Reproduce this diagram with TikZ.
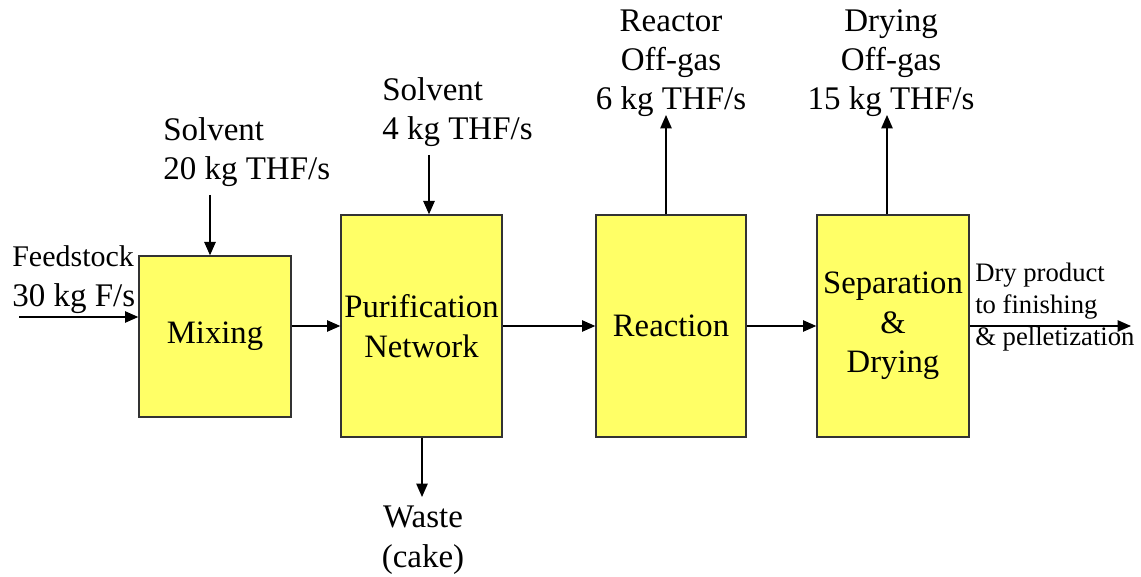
\documentclass[tikz,border=0pt]{standalone}
\usepackage{fontspec}
\setmainfont{Liberation Serif}
\usetikzlibrary{positioning,arrows.meta}
\definecolor{unitfill}{RGB}{255,255,102}

\begin{document}
\begin{tikzpicture}[
        x=0.75pt, y=-0.75pt,
        unit/.style = {draw=black!80, line width=1pt, fill=unitfill, align=center,
                       inner sep=0pt, font=\fontsize{24.5}{29.5}\selectfont},
        lbl/.style  = {inner sep=0pt, font=\fontsize{24.75}{29.5}\selectfont},
        small/.style = {inner sep=0pt, align=left, font=\fontsize{20}{24}\selectfont},
        flow/.style = {-{Triangle[length=10pt,width=8.5pt]}, line width=1.1pt}
    ]
        \useasboundingbox (0,0) rectangle (1141,577);
        % process units
        \node[unit, minimum width=114pt, minimum height=120.75pt] (mix)   at (215,336.5) {Mixing};
        \node[unit, minimum width=120.75pt, minimum height=166.5pt] (purif) at (421.5,326) {Purification\\Network};
        \node[unit, minimum width=112.5pt, minimum height=166.5pt] (react) at (671,326)   {Reaction};
        \node[unit, minimum width=114pt, minimum height=166.5pt] (sep)   at (893,326)   {Separation\\\&\\Drying};
        % stream labels (anchored at the baseline of the last line)
        \node[lbl, align=left, anchor=base west] (feed) at (12,306)
            {\fontsize{22.5}{26.25}\selectfont Feedstock\\30 kg F/s};
        \node[lbl, align=left, anchor=base west]   (solv1) at (163,180) {Solvent\\20 kg THF/s};
        \node[lbl, align=left, anchor=base west]   (solv2) at (382,140) {Solvent\\4 kg THF/s};
        \node[lbl, align=center, anchor=base]      (rgas)  at (671,110) {Reactor\\Off-gas\\6 kg THF/s};
        \node[lbl, align=center, anchor=base]      (dgas)  at (891,110) {Drying\\Off-gas\\15 kg THF/s};
        \node[lbl, align=center, anchor=base]      (waste) at (423,567) {Waste\\(cake)};
        \node[small, anchor=base west]             (prod)  at (975,345) {Dry product\\to finishing\\\& pelletization};
        % stream ends
        \coordinate (feedin) at (19,317);
        \coordinate (s1in)   at (210,195);
        \coordinate (s2in)   at (429,155);
        \coordinate (rgout)  at (666,115);
        \coordinate (dgout)  at (887,115);
        \coordinate (wout)   at (422,497);
        \coordinate (pout)   at (1131,326);
        % streams
        \draw[flow] (feedin) -- (feedin -| mix.west);
        \draw[flow] (s1in) -- (s1in |- mix.north);
        \draw[flow] (s2in) -- (s2in |- purif.north);
        \draw[flow] (mix.east |- purif.west) -- (purif.west);
        \draw[flow] (purif) -- (react);
        \draw[flow] (react) -- (sep);
        \draw[flow] (sep.east) -- (pout);
        \draw[flow] (rgout |- react.north) -- (rgout);
        \draw[flow] (dgout |- sep.north) -- (dgout);
        \draw[flow] (wout |- purif.south) -- (wout);
    \end{tikzpicture}
\end{document}
